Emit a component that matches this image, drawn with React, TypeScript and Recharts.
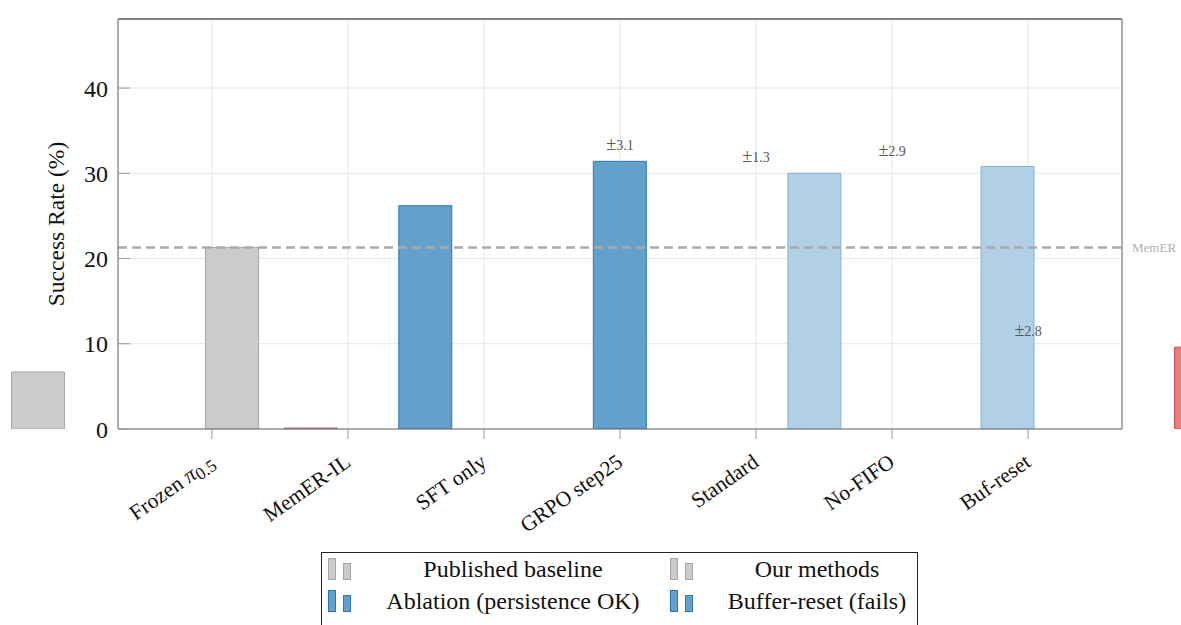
import React from 'react'
import {
  ComposedChart, BarChart, Bar, Cell, XAxis, YAxis, CartesianGrid,
  ReferenceLine, Scatter, Legend, Rectangle,
} from 'recharts'

const categories = ['Frozen π0.5', 'MemER-IL', 'SFT only', 'GRPO step25', 'Standard', 'No-FIFO', 'Buf-reset']
const categoryTicks = [0, 1, 2, 3, 4, 5, 6]
const yTicks = [0, 10, 20, 30, 40]

// bars inside the axis box (x in category units, as shifted in the source plot)
const barPos = [0.15, 0.73, 1.57, 3.0, 4.43, 5.85]
const barValues = [21.3, 0.1, 26.2, 31.4, 30.0, 30.8]
const barGroup = ['base', 'red', 'abl', 'abl', 'ours', 'ours']

// bars that ended up outside the axis box
const strayPos = [-1.28, 7.27]
const strayValues = [6.7, 9.6]
const strayGroup = ['base', 'red']

// std labels
const errPos = [3, 4, 5, 6]
const errY = [33.3, 31.9, 32.6, 11.5]
const errText = ['3.1', '1.3', '2.9', '2.8']

const memerBaseline = 21.3

const legendLabels = ['Published baseline', 'Our methods', 'Ablation (persistence OK)', 'Buffer-reset (fails)']
const legendGroup = ['base', 'base', 'abl', 'abl']

const fills: Record<string, string> = { base: '#cbcbcb', red: '#e97d80', abl: '#64a0cc', ours: '#b1d0e6' }
const strokes: Record<string, string> = { base: '#a5a5a5', red: '#c04a5a', abl: '#2c77b2', ours: '#80b2d9' }

const W = 1181
const H = 625
const plotL = 118
const plotR = 1122
const plotT = 19
const plotB = 429
const xDomain: [number, number] = [-0.69, 6.69]
const yMax = 48.1
const BAR_W = 53
const serif = '"Liberation Serif", "Times New Roman", serif'

const OW = 1320
const pxPerUnit = (plotR - plotL) / (xDomain[1] - xDomain[0])
const overlayDomain: [number, number] = [xDomain[0] - plotL / pxPerUnit, xDomain[0] + (OW - plotL) / pxPerUnit]

const barData = barPos.map((x, i) => ({ x, value: barValues[i], group: barGroup[i] }))
const strayData = strayPos.map((x, i) => ({ x, value: strayValues[i], group: strayGroup[i] }))
const errData = errPos.map((x, i) => ({ x, y: errY[i], t: errText[i] }))

// keep a fixed bar width, centred where the scale puts the bar
function FixedBar(props: any) {
  const { x, width } = props
  return <Rectangle {...props} x={x + width / 2 - BAR_W / 2} width={BAR_W} />
}

function CatTick(props: any) {
  const { x, y, payload } = props
  const label = categories[payload.value]
  if (label === undefined) return null
  return (
    <g transform={`translate(${x + 4},${y + 24})`}>
      <text transform="rotate(-35)" textAnchor="end" fontSize={21.5} fill="#111" fontFamily={serif}>
        {label.startsWith('Frozen') ? (
          <>
            <tspan>Frozen </tspan>
            <tspan fontStyle="italic">π</tspan>
            <tspan fontSize={17.5} dy={4}>0.5</tspan>
          </>
        ) : label}
      </text>
    </g>
  )
}

function ErrLabel(props: any) {
  const { cx, cy, payload } = props
  return (
    <text x={cx} y={cy + 5} textAnchor="middle" fill="#555" fontFamily={serif}>
      <tspan fontSize={18}>±</tspan>
      <tspan fontSize={14}>{payload.t}</tspan>
    </text>
  )
}

function LegendBox() {
  return (
    <div style={{ position: 'relative', width: 597, height: 90, border: '1px solid #222', boxSizing: 'border-box', background: '#fff', fontFamily: serif }}>
      {legendLabels.map((lab, i) => {
        const col = i % 2
        const row = Math.floor(i / 2)
        const iconLeft = col === 0 ? 6 : 348
        const textCenter = col === 0 ? 191 : 495
        const top = row === 0 ? 5 : 37
        const g = legendGroup[i]
        return (
          <React.Fragment key={lab}>
            <svg style={{ position: 'absolute', left: iconLeft, top }} width={26} height={24}>
              <rect x={0.5} y={0.5} width={7} height={21} fill={fills[g]} stroke={strokes[g]} />
              <rect x={15.5} y={5.5} width={7} height={16} fill={fills[g]} stroke={strokes[g]} />
            </svg>
            <div style={{ position: 'absolute', left: textCenter - 170, width: 340, top: top - 3, textAlign: 'center', fontSize: 24, lineHeight: '28px', color: '#111' }}>
              {lab}
            </div>
          </React.Fragment>
        )
      })}
    </div>
  )
}

export default function App() {
  return (
    <div style={{ position: 'absolute', left: 0, top: 0, width: W, height: H, overflow: 'hidden', background: '#fff', fontFamily: serif }}>
      <ComposedChart width={W} height={H} data={barData} margin={{ top: 0, right: 0, bottom: H - plotB - 60, left: 0 }}>
        <CartesianGrid stroke="#e6e6e6" />
        <XAxis
          dataKey="x" type="number" domain={xDomain} ticks={categoryTicks} allowDataOverflow
          height={60} interval={0} tick={<CatTick />} tickSize={10}
          tickLine={{ stroke: '#999' }} axisLine={{ stroke: '#666' }}
        />
        <XAxis
          xAxisId="top" orientation="top" dataKey="x" type="number" domain={xDomain} ticks={categoryTicks}
          allowDataOverflow height={plotT} tick={false} tickSize={10}
          tickLine={{ stroke: '#aaa' }} axisLine={{ stroke: '#111' }}
        />
        <YAxis
          type="number" domain={[0, yMax]} ticks={yTicks} allowDataOverflow width={plotL}
          tickSize={-12} tickMargin={22} tickLine={{ stroke: '#999' }} axisLine={{ stroke: '#666' }}
          tick={{ fontSize: 24, fill: '#111', fontFamily: serif }}
          label={{
            content: () => (
              <text x={64} y={(plotT + plotB) / 2} transform={`rotate(-90 64 ${(plotT + plotB) / 2})`} textAnchor="middle" fontSize={23.5} fill="#111" fontFamily={serif}>
                Success Rate (%)
              </text>
            ),
          }}
        />
        <YAxis
          yAxisId="right" orientation="right" type="number" domain={[0, yMax]} ticks={yTicks} allowDataOverflow
          width={W - plotR} tick={false} tickSize={-12} tickLine={{ stroke: '#999' }} axisLine={{ stroke: '#666' }}
        />
        <ReferenceLine
          y={memerBaseline} stroke="#aaaaaa" strokeDasharray="9 5" strokeWidth={2.5}
          label={{ value: 'MemER', position: 'right', offset: 10, fill: '#b0b0b0', fontSize: 13, fontFamily: serif }}
        />
        <Bar dataKey="value" shape={<FixedBar />} isAnimationActive={false}>
          {barData.map((d, i) => (
            <Cell key={i} fill={fills[d.group]} stroke={strokes[d.group]} strokeWidth={1} />
          ))}
        </Bar>
        <Scatter data={errData} dataKey="y" shape={<ErrLabel />} isAnimationActive={false} />
        <Legend
          verticalAlign="middle" align="center" layout="horizontal"
          wrapperStyle={{ left: 321, top: 552, width: 597, height: 90 }}
          content={() => <LegendBox />}
        />
      </ComposedChart>
      <div style={{ position: 'absolute', left: 0, top: 0, pointerEvents: 'none' }}>
        <BarChart width={OW} height={H} data={strayData} margin={{ top: plotT, right: 0, bottom: H - plotB, left: 0 }}>
          <XAxis dataKey="x" type="number" domain={overlayDomain} ticks={categoryTicks} allowDataOverflow hide />
          <YAxis type="number" domain={[0, yMax]} allowDataOverflow hide />
          <Bar dataKey="value" shape={<FixedBar />} isAnimationActive={false}>
            {strayData.map((d, i) => (
              <Cell key={i} fill={fills[d.group]} stroke={i === 1 ? '#d8434b' : strokes[d.group]} strokeWidth={1} />
            ))}
          </Bar>
        </BarChart>
      </div>
    </div>
  )
}
